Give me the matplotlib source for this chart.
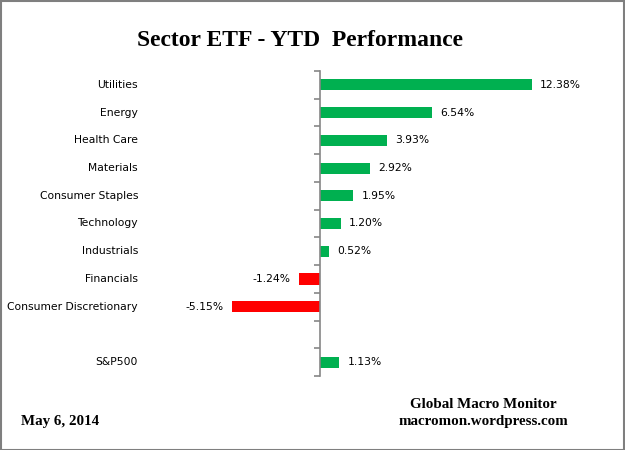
import matplotlib
matplotlib.use("Agg")
import matplotlib.pyplot as plt
import matplotlib.transforms as mtransforms
from matplotlib.patches import Rectangle

# ---------------------------------------------------------------------------
# Data (YTD % change)
# ---------------------------------------------------------------------------
sectors = ["Utilities", "Energy", "Health Care", "Materials", "Consumer Staples",
           "Technology", "Industrials", "Financials", "Consumer Discretionary"]
sector_values = [12.38, 6.54, 3.93, 2.92, 1.95, 1.20, 0.52, -1.24, -5.15]
benchmark = "S&P500"
benchmark_value = 1.13

GREEN = "#00B050"
RED = "#FF0000"
AXIS_GRAY = "#868686"

# one empty slot between the sectors and the benchmark
labels = sectors + ["", benchmark]
values = sector_values + [None, benchmark_value]

fig = plt.figure(figsize=(6.25, 4.5), dpi=100)
ax = fig.add_axes([200 / 625, 1 - 376 / 450, 400 / 625, 305 / 450])

px = 17.13  # pixels per percent
ax.set_xlim(-120 / px, 280 / px)
ax.set_ylim(len(labels) - 0.5, -0.5)

label_tr = mtransforms.blended_transform_factory(fig.transFigure, ax.transData)
for i, (name, v) in enumerate(zip(labels, values)):
    if name:
        ax.text(138 / 625, i, name, transform=label_tr, ha="right", va="center",
                fontsize=7.75, color="black")
    if v is None:
        continue
    ax.barh(i, v, height=0.4, color=GREEN if v >= 0 else RED, zorder=2)
    off = 8 / px
    if v >= 0:
        ax.text(v + off, i, f"{v:.2f}%", ha="left", va="center", fontsize=7.75)
    else:
        ax.text(v - off, i, f"{v:.2f}%", ha="right", va="center", fontsize=7.75)

# axis line through zero with ticks at category boundaries
for s in ["top", "right", "bottom"]:
    ax.spines[s].set_visible(False)
ax.spines["left"].set_position(("data", 0))
ax.spines["left"].set_color(AXIS_GRAY)
ax.spines["left"].set_linewidth(1.2)
ax.spines["left"].set_zorder(3)
ax.set_xticks([])
ax.set_yticks([])
ax.set_yticks([i - 0.5 for i in range(len(labels) + 1)], minor=True)
ax.tick_params(axis="y", which="minor", direction="out", length=4,
               width=1.2, color=AXIS_GRAY, labelleft=False)
ax.patch.set_visible(False)

# titles and footer
serif = ["Liberation Serif", "DejaVu Serif"]
fig.text(300 / 625, 1 - 41 / 450, "Sector ETF - YTD  Performance", ha="center",
         va="center", fontsize=17, fontweight="bold", family=serif)
fig.text(21 / 625, 1 - 421 / 450, "May 6, 2014", ha="left", va="center",
         fontsize=10.8, fontweight="bold", family=serif)
fig.text(483 / 625, 1 - 405 / 450, "Global Macro Monitor", ha="center",
         va="center", fontsize=10.8, fontweight="bold", family=serif)
fig.text(483 / 625, 1 - 422 / 450, "macromon.wordpress.com", ha="center",
         va="center", fontsize=10.8, fontweight="bold", family=serif)

# frame around the whole picture
fig.patches.append(Rectangle((0.5 / 625, 0.5 / 450), 1 - 1.5 / 625, 1 - 1.5 / 450,
                             transform=fig.transFigure, fill=False,
                             edgecolor="#7F7F7F", linewidth=1.5))

fig.savefig("out.png", dpi=100)
